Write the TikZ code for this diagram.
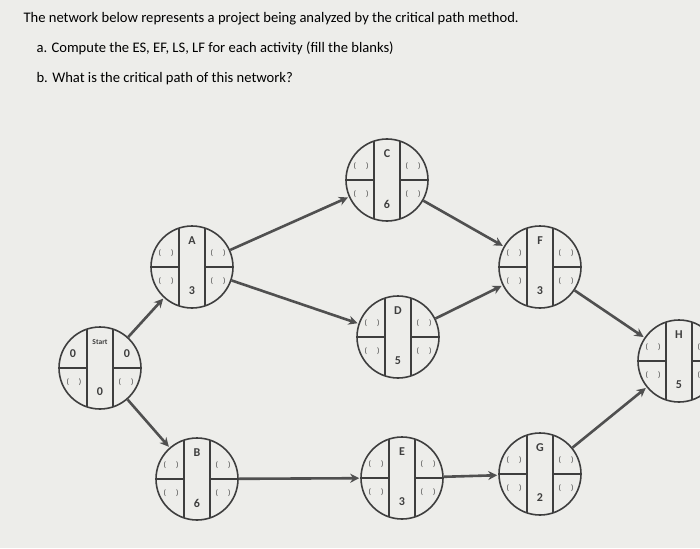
\documentclass[tikz,border=0pt]{standalone}
\usepackage{fontspec}
\setmainfont{Carlito}
\usetikzlibrary{arrows.meta,calc}
\definecolor{paper}{HTML}{EDEDEA}
\definecolor{ink}{HTML}{3E3E3E}
\definecolor{arr}{HTML}{505050}
\tikzset{
  actc/.style={circle,draw=ink,line width=1.6pt,minimum size=82pt,inner sep=0pt},
  part/.style={draw=ink,line width=1.6pt},
  conn/.style={draw=arr,line width=2.6pt,-{Stealth[length=9pt,width=9pt]},shorten >=1pt},
  lab/.style={font=\bfseries\fontsize{12}{13}\selectfont,text=ink},
  blank/.style={font=\fontsize{8}{9}\selectfont,text=ink},
  qtext/.style={anchor=west,font=\fontsize{14.6}{16}\selectfont,text=black}
}
% \actnode{name}{x}{y}{label}{dur}
\newcommand{\actnode}[5]{%
  \node[actc] (#1) at (#2,#3) {};
  \draw[part] ($(#1.center)+(-13,-38.9)$) -- ($(#1.center)+(-13,38.9)$);
  \draw[part] ($(#1.center)+(13,-38.9)$) -- ($(#1.center)+(13,38.9)$);
  \draw[part] (#1.west) -- ($(#1.center)+(-13,0)$);
  \draw[part] (#1.east) -- ($(#1.center)+(13,0)$);
  \node[lab] at ($(#1.center)+(0,-26)$) {#4};
  \node[lab] at ($(#1.center)+(0,24)$) {#5};
}
\newcommand{\blanks}[1]{%
  \node[blank] at ($(#1.center)+(-26,14)$) {(\hspace{10pt})};
  \node[blank] at ($(#1.center)+(26,14)$) {(\hspace{10pt})};
}
\newcommand{\blanksup}[1]{%
  \node[blank] at ($(#1.center)+(-26,-14)$) {(\hspace{10pt})};
  \node[blank] at ($(#1.center)+(26,-14)$) {(\hspace{10pt})};
}
\begin{document}
\begin{tikzpicture}[x=1pt,y=-1pt]
\useasboundingbox (0,0) rectangle (700,548);
\fill[paper] (0,0) rectangle (700,548);
\node[qtext] (t1) at (20,19) {The network below represents a project being analyzed by the critical path method.};
\node[qtext] (t2) at (33,48) {a. Compute the ES, EF, LS, LF for each activity (fill the blanks)};
\node[qtext] (t3) at (33,79) {b. What is the critical path of this network?};

\actnode{S}{100}{368}{\fontsize{7.5}{8}\selectfont Start}{0}
\node[lab] at ($(S.center)+(-27,-14)$) {0};
\node[lab] at ($(S.center)+(27,-14)$) {0};
\blanks{S}
\actnode{A}{192}{267}{A}{3}\blanks{A}\blanksup{A}
\actnode{B}{197}{479}{B}{6}\blanks{B}\blanksup{B}
\actnode{C}{387}{180}{C}{6}\blanks{C}\blanksup{C}
\actnode{D}{398}{337}{D}{5}\blanks{D}\blanksup{D}
\actnode{E}{402}{478}{E}{3}\blanks{E}\blanksup{E}
\actnode{F}{540}{267}{F}{3}\blanks{F}\blanksup{F}
\actnode{G}{540}{474}{G}{2}\blanks{G}\blanksup{G}
\actnode{H}{679}{361}{H}{5}\blanks{H}\blanksup{H}

\draw[conn] (S) -- (A);
\draw[conn] (S) -- (B);
\draw[conn] (A) -- (C);
\draw[conn] (A) -- (D);
\draw[conn] (B) -- (E);
\draw[conn] (E) -- (G);
\draw[conn] (C) -- (F);
\draw[conn] (D) -- (F);
\draw[conn] (F) -- (H);
\draw[conn] (G) -- (H);
\end{tikzpicture}
\end{document}
